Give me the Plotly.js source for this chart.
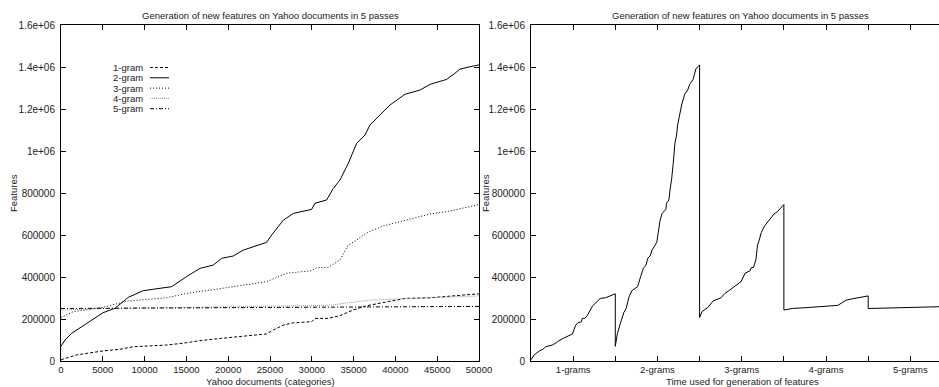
<!DOCTYPE html>
<html>
<head>
<meta charset="utf-8">
<script src="https://cdn.plot.ly/plotly-3.0.1.min.js"></script>
<style>html,body{margin:0;padding:0;background:#fff;overflow:hidden}#chart{width:939px;height:387px}</style>
</head>
<body>
<div id="chart"></div>
<script>
// ---- data ----
var seriesNames = ['1-gram', '2-gram', '3-gram', '4-gram', '5-gram'];
var passLabels = ['1-grams', '2-grams', '3-grams', '4-grams', '5-grams'];

var docs1 = [0, 1870, 5030, 7060, 8650, 12640, 15030, 16620, 19220, 21800, 24600, 25400, 26600, 27800, 29980, 30380, 31970, 33370, 34960, 36560, 38550, 41140, 44130, 50000];
var gram1 = [6000, 29000, 48000, 56000, 68000, 76000, 87000, 97000, 108000, 119000, 129000, 148000, 171000, 182000, 187000, 203000, 203000, 216000, 243000, 263000, 278000, 298000, 301000, 320000];

var docs2 = [0, 480, 1280, 3070, 5030, 6460, 8050, 9840, 11440, 13240, 15030, 16620, 18220, 19220, 20600, 21800, 24600, 25200, 26600, 27800, 29980, 30380, 31780, 32570, 33370, 34360, 35370, 36360, 36960, 37950, 39350, 41140, 42930, 44130, 46130, 47120, 47720, 48920, 50000];
var gram2 = [70000, 100000, 132000, 180000, 230000, 251000, 303000, 335000, 343000, 354000, 402000, 441000, 457000, 489000, 500000, 528000, 565000, 600000, 671000, 703000, 722000, 751000, 767000, 822000, 862000, 941000, 1037000, 1076000, 1124000, 1163000, 1219000, 1270000, 1290000, 1317000, 1341000, 1370000, 1390000, 1401000, 1410000];

var docs3 = [0, 1470, 5030, 8050, 12640, 15030, 17420, 20600, 24600, 27000, 29980, 30580, 31970, 33370, 34360, 35370, 36560, 38550, 41140, 44130, 46130, 50000];
var gram3 = [207000, 235000, 256000, 286000, 301000, 322000, 335000, 354000, 378000, 418000, 430000, 444000, 446000, 481000, 552000, 576000, 611000, 643000, 671000, 700000, 711000, 745000];

var docs4 = [0, 5000, 15000, 25000, 32000, 35000, 37000, 40000, 44000, 50000];
var gram4 = [243000, 250000, 255000, 260000, 265000, 280000, 290000, 295000, 300000, 310000];

var docs5 = [0, 10000, 25000, 40000, 50000];
var gram5 = [250000, 252000, 255000, 258000, 260000];

var docTicks = [0, 5000, 10000, 15000, 20000, 25000, 30000, 35000, 40000, 45000, 50000];
var featTicks = [0, 200000, 400000, 600000, 800000, 1000000, 1200000, 1400000, 1600000];
var featTickText = ['0', '200000', '400000', '600000', '800000', '1e+06', '1.2e+06', '1.4e+06', '1.6e+06'];
var totalDocs = 50000;

// ---- styles ----
var FONT = 'Liberation Sans, Arial, Helvetica, sans-serif';
var dashes = ['3px,2px', 'solid', '1px,2px', '1px,1px', '4px,2px,1px,2px'];
var colors = ['#000', '#000', '#000', '#999', '#000'];

var allDocs = [docs1, docs2, docs3, docs4, docs5];
var allGrams = [gram1, gram2, gram3, gram4, gram5];

var traces = [];
for (var i = 0; i < 5; i++) {
  traces.push({
    x: allDocs[i], y: allGrams[i], type: 'scatter', mode: 'lines',
    name: seriesNames[i], xaxis: 'x', yaxis: 'y', showlegend: false,
    line: {color: colors[i], width: 1, dash: dashes[i]}, hoverinfo: 'skip'
  });
}

// right plot: the 5 passes one after another
var rx = [], ry = [];
for (var p = 0; p < 5; p++) {
  for (var j = 0; j < allDocs[p].length; j++) {
    rx.push(p + allDocs[p][j] / totalDocs);
    ry.push(allGrams[p][j]);
  }
}
traces.push({x: rx, y: ry, type: 'scatter', mode: 'lines', xaxis: 'x2', yaxis: 'y2',
  showlegend: false, line: {color: '#000', width: 1}, hoverinfo: 'skip'});

var passTickVals = [], passTickText = [];
for (var k = 0; k < 10; k++) {
  passTickVals.push(k * 0.5);
  passTickText.push(k % 2 === 1 ? passLabels[(k - 1) / 2] : '');
}

var axisCommon = {
  showgrid: false, zeroline: false, showline: true, linecolor: '#000', linewidth: 1,
  ticks: 'inside', ticklen: 5, tickcolor: '#000', tickwidth: 1,
  tickfont: {family: FONT, size: 10, color: '#222'}, fixedrange: true
};
function ax(extra) { return Object.assign({}, axisCommon, extra); }
var xTickFont = {family: FONT, size: 9.5, color: '#222'};

var W = 939;
var layout = {
  width: 939, height: 387,
  margin: {l: 0, r: 0, t: 25, b: 26, pad: 0},
  paper_bgcolor: '#fff', plot_bgcolor: '#fff',
  showlegend: false,
  font: {family: FONT, size: 9.5, color: '#222'},
  xaxis: ax({domain: [61 / W, 479 / W], range: [0, 50000], tickvals: docTicks, tickfont: xTickFont,
    ticktext: docTicks.map(String), mirror: 'ticks', anchor: 'y', ticklabelstandoff: 0}),
  yaxis: ax({domain: [0, 1], range: [0, 1600000], tickvals: featTicks, ticktext: featTickText,
    mirror: 'ticks', anchor: 'x', ticklabelstandoff: 3}),
  xaxis2: ax({domain: [531 / W, 1], range: [0, 4.84], tickvals: passTickVals, tickfont: xTickFont,
    ticktext: passTickText, mirror: 'ticks', anchor: 'y2', ticklabelstandoff: 0}),
  yaxis2: ax({domain: [0, 1], range: [0, 1600000], tickvals: featTicks, ticktext: featTickText,
    mirror: false, anchor: 'x2', ticklabelstandoff: 3}),
  annotations: [],
  shapes: []
};

var tfont = {family: FONT, size: 9.5, color: '#222'};
var titleText = 'Generation of new features on Yahoo documents in 5 passes';
layout.annotations.push(
  {text: titleText, xref: 'paper', yref: 'paper', x: 270 / W, y: (361 - 15) / 336, showarrow: false, xanchor: 'center', yanchor: 'middle', font: tfont},
  {text: titleText, xref: 'paper', yref: 'paper', x: 740 / W, y: (361 - 15) / 336, showarrow: false, xanchor: 'center', yanchor: 'middle', font: tfont},
  {text: 'Yahoo documents (categories)', xref: 'paper', yref: 'paper', x: 270 / W, y: (361 - 381.5) / 336, showarrow: false, xanchor: 'center', yanchor: 'middle', font: tfont},
  {text: 'Time used for generation of features', xref: 'paper', yref: 'paper', x: 742 / W, y: (361 - 381.5) / 336, showarrow: false, xanchor: 'center', yanchor: 'middle', font: tfont},
  {text: 'Features', xref: 'paper', yref: 'paper', x: 13 / W, y: (361 - 193) / 336, textangle: -90, showarrow: false, xanchor: 'center', yanchor: 'middle', font: tfont},
  {text: 'Features', xref: 'paper', yref: 'paper', x: 485 / W, y: (361 - 193) / 336, textangle: -90, showarrow: false, xanchor: 'center', yanchor: 'middle', font: tfont}
);

// key (text on the left, line sample on the right, as in the picture)
for (var s = 0; s < 5; s++) {
  var yy = (361 - (67.5 + s * 10.3)) / 336;
  layout.annotations.push({text: seriesNames[s], xref: 'paper', yref: 'paper', x: 145 / W, y: yy,
    showarrow: false, xanchor: 'right', yanchor: 'middle', font: tfont});
  layout.shapes.push({type: 'line', xref: 'paper', yref: 'paper', x0: 150 / W, x1: 169 / W, y0: yy, y1: yy,
    line: {color: colors[s], width: 1, dash: dashes[s]}});
}

Plotly.newPlot('chart', traces, layout, {displayModeBar: false, staticPlot: true});
</script>
</body>
</html>
